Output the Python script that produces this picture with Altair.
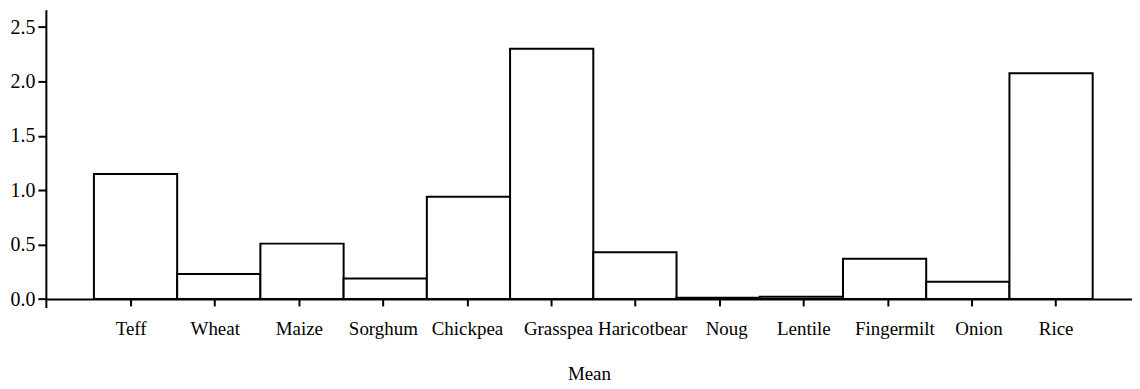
import altair as alt
import pandas as pd

crops = ["Teff", "Wheat", "Maize", "Sorghum", "Chickpea", "Grasspea", "Haricotbear",
         "Noug", "Lentile", "Fingermilt", "Onion", "Rice"]
means = [1.15, 0.23, 0.51, 0.19, 0.94, 2.30, 0.43, 0.012, 0.022, 0.37, 0.16, 2.075]
y_ticks = [0.0, 0.5, 1.0, 1.5, 2.0, 2.5]

df = pd.DataFrame({"Crop": crops, "Mean": means})

FONT = "Liberation Serif"


def y_enc():
    return alt.Y(
        "Mean:Q",
        scale=alt.Scale(domain=[-0.078, 2.66], nice=False, zero=False),
        axis=alt.Axis(
            values=y_ticks, format=".1f", title=None, grid=False,
            domainColor="black", domainWidth=2, tickColor="black", tickWidth=2,
            tickSize=8, labelFont=FONT, labelFontSize=20, labelColor="black",
            labelPadding=3,
        ),
    )


bars = alt.Chart(df).mark_bar(
    fill="white", stroke="black", strokeWidth=2
).encode(
    x=alt.X("Crop:N", sort=crops,
            scale=alt.Scale(paddingInner=0, paddingOuter=0.525, align=0.55),
            axis=None),
    y=y_enc(),
    y2=alt.datum(0),
)

axis_layer = alt.Chart(df).mark_point(opacity=0).encode(
    x=alt.X("Crop:N", sort=crops,
            scale=alt.Scale(type="point", padding=0.958, align=0.526),
            axis=alt.Axis(
                title="Mean", labelAngle=0, offset=-8.7, grid=False,
                domainColor="black", domainWidth=2, tickColor="black",
                tickWidth=2, tickSize=7, labelFont=FONT, labelFontSize=19,
                labelColor="black", labelPadding=14, labelOverlap=False,
                labelOffset=alt.ExprRef(
                    "indexof(['Grasspea','Haricotbear','Noug','Fingermilt','Onion'], datum.value) >= 0 ? 7 : 0"
                ),
                titleFont=FONT, titleFontSize=19, titleFontWeight="normal",
                titleColor="black", titlePadding=26,
            )),
    y=y_enc(),
)

chart = alt.layer(bars, axis_layer).resolve_scale(x="independent").properties(
    width=1090, height=299,
    autosize=alt.AutoSizeParams(type="none"),
    padding={"left": 38, "top": 1, "right": 0, "bottom": 79},
    view=alt.ViewBackground(stroke="transparent", strokeOpacity=0),
).configure_view(stroke="transparent", strokeOpacity=0, strokeWidth=0).configure(
    background="white"
)

chart.save("out.html", embed_options={"renderer": "svg", "actions": False})
